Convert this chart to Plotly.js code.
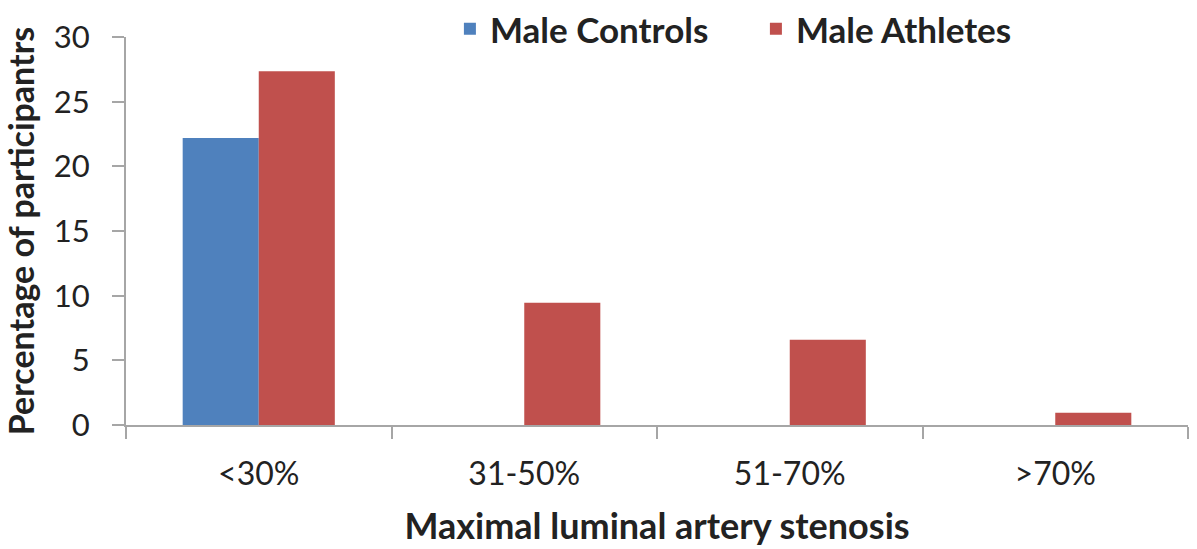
<!DOCTYPE html>
<html>
<head>
<meta charset="utf-8">
<script src="https://cdn.plot.ly/plotly-3.0.1.min.js"></script>
<style>html,body{margin:0;padding:0;background:#fff;}#chart{width:1197px;height:549px;}</style>
</head>
<body>
<div id="chart"></div>
<script>
var categories = ["<30%", "31-50%", "51-70%", ">70%"];
var maleControls = [22.2, 0, 0, 0];
var maleAthletes = [27.35, 9.45, 6.6, 0.95];
var yTicks = [0, 5, 10, 15, 20, 25, 30];

var font = "Lato, 'Open Sans', sans-serif";
var traces = [
  {type: "bar", name: "Male Controls", x: categories, y: maleControls, marker: {color: "#4f81bd"}},
  {type: "bar", name: "Male Athletes", x: categories, y: maleAthletes, marker: {color: "#c0504d"}}
];
var layout = {
  width: 1197, height: 549,
  margin: {l: 126, r: 9, t: 37, b: 124, autoexpand: false},
  paper_bgcolor: "#fff", plot_bgcolor: "rgba(0,0,0,0)",
  barmode: "group", bargap: 0.427, bargroupgap: 0,
  font: {family: font, color: "#222", size: 21},
  showlegend: true,
  legend: {orientation: "h", xref: "paper", x: 0.305, xanchor: "left",
           yref: "container", y: 0.947, yanchor: "middle", bgcolor: "rgba(0,0,0,0)",
           entrywidth: 261, entrywidthmode: "pixels", itemwidth: 30,
           font: {family: font, size: 35, color: "#222", weight: "bold"}},
  xaxis: {
    type: "category", automargin: false, showline: true, linecolor: "#a6a6a6", linewidth: 2,
    ticks: "outside", tickson: "boundaries", ticklen: 12, tickcolor: "#a6a6a6", tickwidth: 2,
    ticklabelstandoff: 20, showgrid: false, zeroline: false,
    tickfont: {family: font, size: 32, color: "#222"},
    title: {text: "Maximal luminal artery stenosis", font: {family: font, size: 36, color: "#222", weight: "bold"}, standoff: 22}
  },
  yaxis: {
    range: [0, 30], tickvals: yTicks, automargin: false, showline: true, linecolor: "#a6a6a6", linewidth: 2,
    ticks: "outside", ticklen: 12, tickcolor: "#a6a6a6", tickwidth: 2, showgrid: false, zeroline: false,
    ticklabelstandoff: 16,
    tickfont: {family: font, size: 31, color: "#222"},
    title: {text: "Percentage of participantrs", font: {family: font, size: 34, color: "#222", weight: "bold"}, standoff: 10}
  }
};
Plotly.newPlot("chart", traces, layout, {displayModeBar: false, staticPlot: true});
</script>
</body>
</html>
